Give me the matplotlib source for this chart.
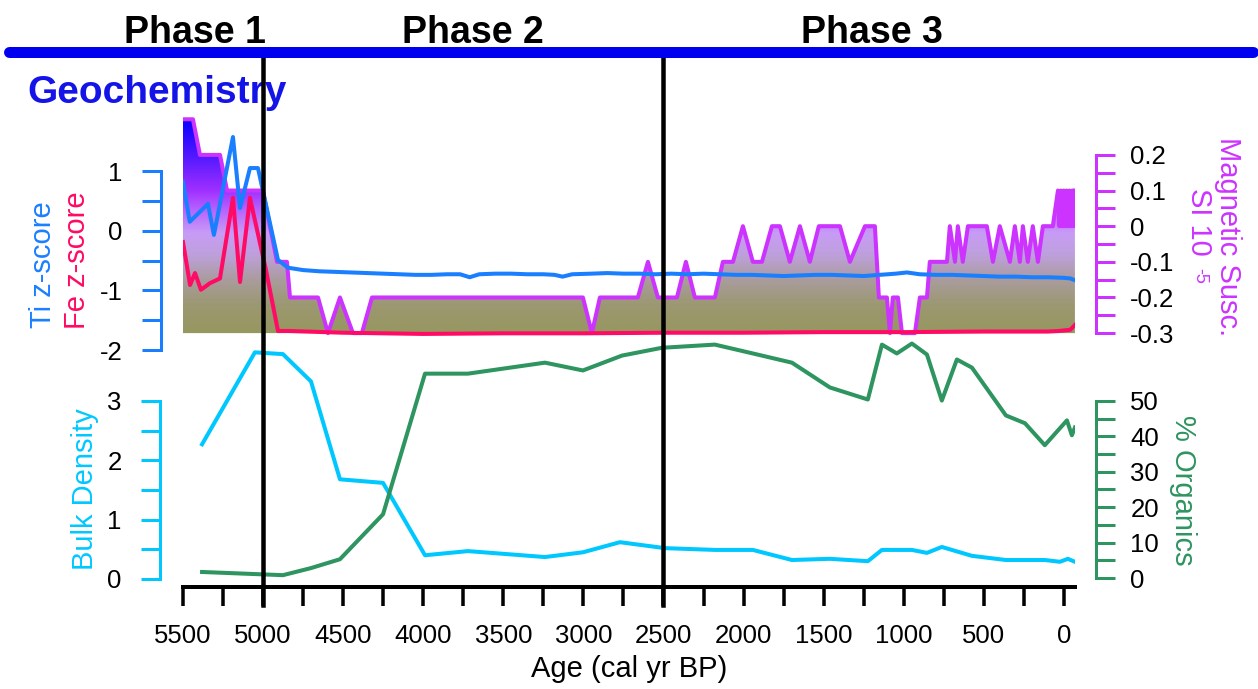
import numpy as np
import matplotlib
matplotlib.use('Agg')
import matplotlib.pyplot as plt
from matplotlib.colors import LinearSegmentedColormap
from matplotlib.ticker import FixedLocator, MultipleLocator, FuncFormatter
from matplotlib.lines import Line2D
from matplotlib.transforms import blended_transform_factory

plt.rcParams['font.family'] = ['Liberation Sans', 'DejaVu Sans']
plt.rcParams['axes.unicode_minus'] = False

# ---------------- data ----------------
ti_age = [5500, 5458, 5344, 5307, 5188, 5144, 5082, 5032, 4907, 4845, 4750, 4650, 4550, 4450, 4350,
          4250, 4150, 4050, 3950, 3850, 3770, 3710, 3650, 3550, 3450, 3350, 3250, 3180, 3130, 3070,
          2950, 2850, 2750, 2650, 2550, 2450, 2350, 2250, 2150, 2050, 1950, 1850, 1750, 1650, 1550,
          1450, 1350, 1250, 1150, 1050, 980, 900, 800, 700, 600, 500, 400, 300, 200, 100, 0, -40, -69]
ti_z = [0.82, 0.15, 0.45, -0.07, 1.57, 0.38, 1.05, 1.05, -0.49, -0.62, -0.66, -0.68, -0.69, -0.70, -0.71,
        -0.72, -0.73, -0.74, -0.74, -0.73, -0.73, -0.78, -0.73, -0.72, -0.72, -0.73, -0.73, -0.74, -0.77, -0.73,
        -0.72, -0.71, -0.72, -0.72, -0.73, -0.72, -0.73, -0.72, -0.73, -0.74, -0.74, -0.75, -0.76, -0.75, -0.74,
        -0.74, -0.75, -0.76, -0.74, -0.72, -0.70, -0.73, -0.74, -0.74, -0.75, -0.76, -0.77, -0.77, -0.78, -0.78,
        -0.79, -0.80, -0.83]

fe_age = [5500, 5456, 5425, 5388, 5332, 5269, 5188, 5144, 5082, 4982, 4907, 4845, 4500, 4000, 3500,
          3000, 2500, 2000, 1500, 1000, 500, 100, 30, -40, -69]
fe_z = [-0.19, -0.91, -0.71, -0.99, -0.88, -0.80, 0.55, -0.86, 0.55, -0.66, -1.68, -1.68, -1.71, -1.73, -1.72,
        -1.72, -1.71, -1.71, -1.70, -1.70, -1.69, -1.69, -1.68, -1.66, -1.58]

ms_age = [5500, 5438, 5394, 5269, 5225, 5001, 4913, 4851, 4832, 4657, 4595, 4520, 4439, 4383, 4320,
          3003, 2947, 2897, 2660, 2597, 2535, 2416, 2360, 2304, 2179, 2129, 2066, 2004, 1942, 1885,
          1823, 1773, 1711, 1648, 1586, 1530, 1398, 1336, 1242, 1180, 1155, 1105, 1086, 1068, 1036,
          1011, 930, 899, 855, 837, 730, 712, 680, 662, 631, 599, 481, 443, 400, 337,
          306, 275, 256, 225, 194, 162, 131, 69,
          37, 28, 19, 10, 1, -8, -17, -26, -35, -44, -53, -62, -69]
ms_si = [0.3, 0.3, 0.2, 0.2, 0.1, 0.1, -0.1, -0.1, -0.2, -0.2, -0.3, -0.2, -0.3, -0.3, -0.2,
         -0.2, -0.3, -0.2, -0.2, -0.1, -0.2, -0.2, -0.1, -0.2, -0.2, -0.1, -0.1, 0.0, -0.1, -0.1,
         0.0, 0.0, -0.1, 0.0, -0.1, 0.0, 0.0, -0.1, 0.0, 0.0, -0.2, -0.2, -0.3, -0.2, -0.2,
         -0.3, -0.3, -0.2, -0.2, -0.1, -0.1, 0.0, -0.1, 0.0, -0.1, 0.0, 0.0, -0.1, 0.0, -0.1,
         0.0, -0.1, 0.0, -0.1, 0.0, -0.1, 0.0, 0.0,
         0.1, 0.0, 0.1, 0.0, 0.1, 0.0, 0.1, 0.0, 0.1, 0.0, 0.1, 0.0, 0.1]

bd_age = [5381, 5051, 4876, 4701, 4520, 4251, 3989, 3721, 3240, 3003, 2772, 2491, 2179, 1942, 1698,
          1461, 1224, 1136, 949, 855, 762, 574, 362, 119, 25, -25, -69]
bd_val = [2.27, 3.82, 3.79, 3.33, 1.68, 1.62, 0.40, 0.47, 0.37, 0.45, 0.62, 0.52, 0.49, 0.49, 0.32,
          0.34, 0.30, 0.49, 0.49, 0.44, 0.54, 0.39, 0.32, 0.32, 0.29, 0.34, 0.29]

org_age = [5381, 4876, 4701, 4520, 4251, 3989, 3721, 3240, 3003, 2759, 2510, 2179, 1942, 1698, 1461,
           1224, 1136, 1043, 949, 855, 762, 668, 574, 362, 243, 119, -19, -50, -69]
org_val = [1.7, 0.8, 2.8, 5.3, 18.0, 57.7, 57.7, 60.8, 58.6, 62.8, 65.0, 65.9, 63.4, 60.8, 53.8,
           50.4, 65.9, 63.4, 66.2, 63.1, 50.1, 61.7, 59.4, 45.9, 43.7, 37.5, 44.5, 40.3, 42.5]

phase_bounds = [5000, 2500]
phase_labels = ['Phase 1', 'Phase 2', 'Phase 3']

# ---------------- colours ----------------
C_TI = '#1a7fff'
C_FE = '#ff0a64'
C_MS = '#cc33ff'
C_BD = '#00c8ff'
C_OR = '#2e9460'

W, H = 1258, 689
fig = plt.figure(figsize=(W / 100, H / 100), dpi=100)
PT = 0.72  # points per pixel


def rect(x0, y0, x1, y1):
    return [x0 / W, 1 - y1 / H, (x1 - x0) / W, (y1 - y0) / H]


XL = (5500, -69.5)
TICK_LEN = 19 * PT
TICK_W = 3 * PT
LBL = 18.5
LW = 2.9

# ---------------- top panel: geochemistry ----------------
ax_ti = fig.add_axes(rect(183, 110, 1075, 352))
ax_ms = ax_ti.twinx()
ax_ti.set_zorder(ax_ms.get_zorder() + 1)
ax_ti.patch.set_visible(False)

ax_ti.set_xlim(XL)
ax_ti.set_ylim(-2.033, 2.023)
ax_ms.set_ylim(-0.353, 0.326)

stops = [(-0.30, '#979760'), (-0.22, '#9c9872'), (-0.15, '#aa9c9e'), (-0.08, '#bea0dc'),
         (-0.02, '#c89cf6'), (0.05, '#b560ff'), (0.10, '#a030ff'), (0.20, '#5018ff'), (0.30, '#0a00ff')]
cmap = LinearSegmentedColormap.from_list('ms', [((v + 0.3) / 0.6, c) for v, c in stops])
grad = np.linspace(-0.353, 0.326, 500).reshape(-1, 1)
im = ax_ms.imshow(grad, extent=[XL[0], XL[1], -0.353, 0.326], origin='lower', aspect='auto',
                  cmap=cmap, vmin=-0.3, vmax=0.3, interpolation='bilinear', zorder=1)
poly = ax_ms.fill_between(ms_age, ms_si, -0.3, facecolor='none', edgecolor='none')
im.set_clip_path(poly.get_paths()[0], transform=ax_ms.transData)
ax_ms.plot(ms_age, ms_si, color=C_MS, lw=LW, zorder=3)
ax_ms.set_xlim(XL)
ax_ms.set_ylim(-0.353, 0.326)

ax_ti.plot(ti_age, ti_z, color=C_TI, lw=LW, zorder=4)
ax_ti.plot(fe_age, fe_z, color=C_FE, lw=LW, zorder=3)

for a in (ax_ti, ax_ms):
    for s in ('top', 'bottom'):
        a.spines[s].set_visible(False)
    a.tick_params(axis='x', bottom=False, labelbottom=False, top=False)
ax_ti.spines['right'].set_visible(False)
ax_ms.spines['left'].set_visible(False)

ax_ti.spines['left'].set_position(('outward', 22 * PT))
ax_ti.spines['left'].set_bounds(-2, 1)
ax_ti.spines['left'].set_color(C_TI)
ax_ti.spines['left'].set_linewidth(TICK_W)
ax_ti.yaxis.set_major_locator(FixedLocator([-2, -1, 0, 1]))
ax_ti.yaxis.set_minor_locator(FixedLocator([-1.5, -0.5, 0.5]))
ax_ti.yaxis.set_major_formatter(FuncFormatter(lambda v, p: f'{v:.0f}'))
ax_ti.tick_params(axis='y', which='both', direction='out', length=TICK_LEN, width=TICK_W,
                  color=C_TI, labelsize=LBL, labelcolor='black', pad=14)

ax_ms.spines['right'].set_position(('outward', 21 * PT))
ax_ms.spines['right'].set_bounds(-0.3, 0.2)
ax_ms.spines['right'].set_color(C_MS)
ax_ms.spines['right'].set_linewidth(TICK_W)
ax_ms.yaxis.set_major_locator(FixedLocator([-0.3, -0.2, -0.1, 0.0, 0.1, 0.2]))
ax_ms.yaxis.set_minor_locator(FixedLocator([-0.25, -0.15, -0.05, 0.05, 0.15]))
ax_ms.yaxis.set_major_formatter(FuncFormatter(lambda v, p: '0' if abs(v) < 1e-9 else f'{v:.1f}'))
ax_ms.tick_params(axis='y', which='both', direction='out', length=TICK_LEN, width=TICK_W,
                  color=C_MS, labelsize=LBL, labelcolor='black', pad=11)

# ---------------- bottom panel ----------------
ax_bd = fig.add_axes(rect(183, 340, 1075, 587))
ax_or = ax_bd.twinx()
ax_bd.plot(bd_age, bd_val, color=C_BD, lw=LW, zorder=3)
ax_or.plot(org_age, org_val, color=C_OR, lw=LW, zorder=3)
ax_bd.set_xlim(XL)
ax_bd.set_ylim(-0.135, 4.028)
ax_or.set_ylim(-2.54, 67.2)

ax_bd.spines['top'].set_visible(False)
ax_bd.spines['right'].set_visible(False)
ax_or.spines['top'].set_visible(False)
ax_or.spines['left'].set_visible(False)
ax_or.spines['bottom'].set_visible(False)

ax_bd.spines['bottom'].set_linewidth(4 * PT)
ax_bd.spines['bottom'].set_color('black')
ax_bd.xaxis.set_major_locator(MultipleLocator(500))
ax_bd.xaxis.set_minor_locator(MultipleLocator(250))
ax_bd.xaxis.set_major_formatter(FuncFormatter(lambda v, p: f'{v:.0f}'))
ax_bd.tick_params(axis='x', which='both', direction='out', length=TICK_LEN, width=3.5 * PT,
                  color='black', labelsize=LBL, pad=13)
ax_bd.set_xlabel('Age (cal yr BP)', fontsize=21, labelpad=5)

ax_bd.spines['left'].set_position(('outward', 23 * PT))
ax_bd.spines['left'].set_bounds(0, 3)
ax_bd.spines['left'].set_color(C_BD)
ax_bd.spines['left'].set_linewidth(TICK_W)
ax_bd.yaxis.set_major_locator(FixedLocator([0, 1, 2, 3]))
ax_bd.yaxis.set_minor_locator(FixedLocator([0.5, 1.5, 2.5]))
ax_bd.yaxis.set_major_formatter(FuncFormatter(lambda v, p: f'{v:.0f}'))
ax_bd.tick_params(axis='y', which='both', direction='out', length=TICK_LEN, width=TICK_W,
                  color=C_BD, labelsize=LBL, labelcolor='black', pad=14)

ax_or.spines['right'].set_position(('outward', 21 * PT))
ax_or.spines['right'].set_bounds(0, 50)
ax_or.spines['right'].set_color(C_OR)
ax_or.spines['right'].set_linewidth(TICK_W)
ax_or.yaxis.set_major_locator(FixedLocator([0, 10, 20, 30, 40, 50]))
ax_or.yaxis.set_minor_locator(FixedLocator([5, 15, 25, 35, 45]))
ax_or.yaxis.set_major_formatter(FuncFormatter(lambda v, p: f'{v:.0f}'))
ax_or.tick_params(axis='y', which='both', direction='out', length=TICK_LEN, width=TICK_W,
                  color=C_OR, labelsize=LBL, labelcolor='black', pad=11)
ax_or.set_xlim(XL)

# ---------------- axis titles ----------------
def ftext(x, y, s, **kw):
    fig.text(x / W, 1 - y / H, s, **kw)

ftext(43, 265, 'Ti z-score', rotation=90, ha='center', va='center', fontsize=21, color=C_TI)
ftext(77, 260, 'Fe z-score', rotation=90, ha='center', va='center', fontsize=21, color=C_FE)
ftext(85, 489, 'Bulk Density', rotation=90, ha='center', va='center', fontsize=21, color=C_BD)
ftext(1228, 237, 'Magnetic Susc.', rotation=270, ha='center', va='center', fontsize=21, color=C_MS)
ftext(1199, 222, 'SI 10', rotation=270, ha='center', va='center', fontsize=21, color=C_MS)
ftext(1200, 276, '-5', rotation=270, ha='center', va='center', fontsize=13, color=C_MS)
ftext(1183, 490, '% Organics', rotation=270, ha='center', va='center', fontsize=21, color=C_OR)

# ---------------- header ----------------
ftext(27, 103, 'Geochemistry', fontsize=28, fontweight='bold', color='#1414e8', va='baseline', ha='left')
for lbl, xc in zip(phase_labels, [195, 473, 872]):
    ftext(xc, 43, lbl, fontsize=27, fontweight='bold', color='black', va='baseline', ha='center')

fig.add_artist(Line2D([9 / W, 1253 / W], [1 - 52 / H, 1 - 52 / H], transform=fig.transFigure,
                      color='#0000f0', lw=11 * PT, solid_capstyle='round', zorder=20))

btr = blended_transform_factory(ax_bd.transData, fig.transFigure)
for b in phase_bounds:
    fig.add_artist(Line2D([b, b], [1 - 54 / H, 1 - 605 / H], transform=btr,
                          color='black', lw=4.5 * PT, zorder=15))

fig.savefig('out.png', dpi=100, facecolor='white')
